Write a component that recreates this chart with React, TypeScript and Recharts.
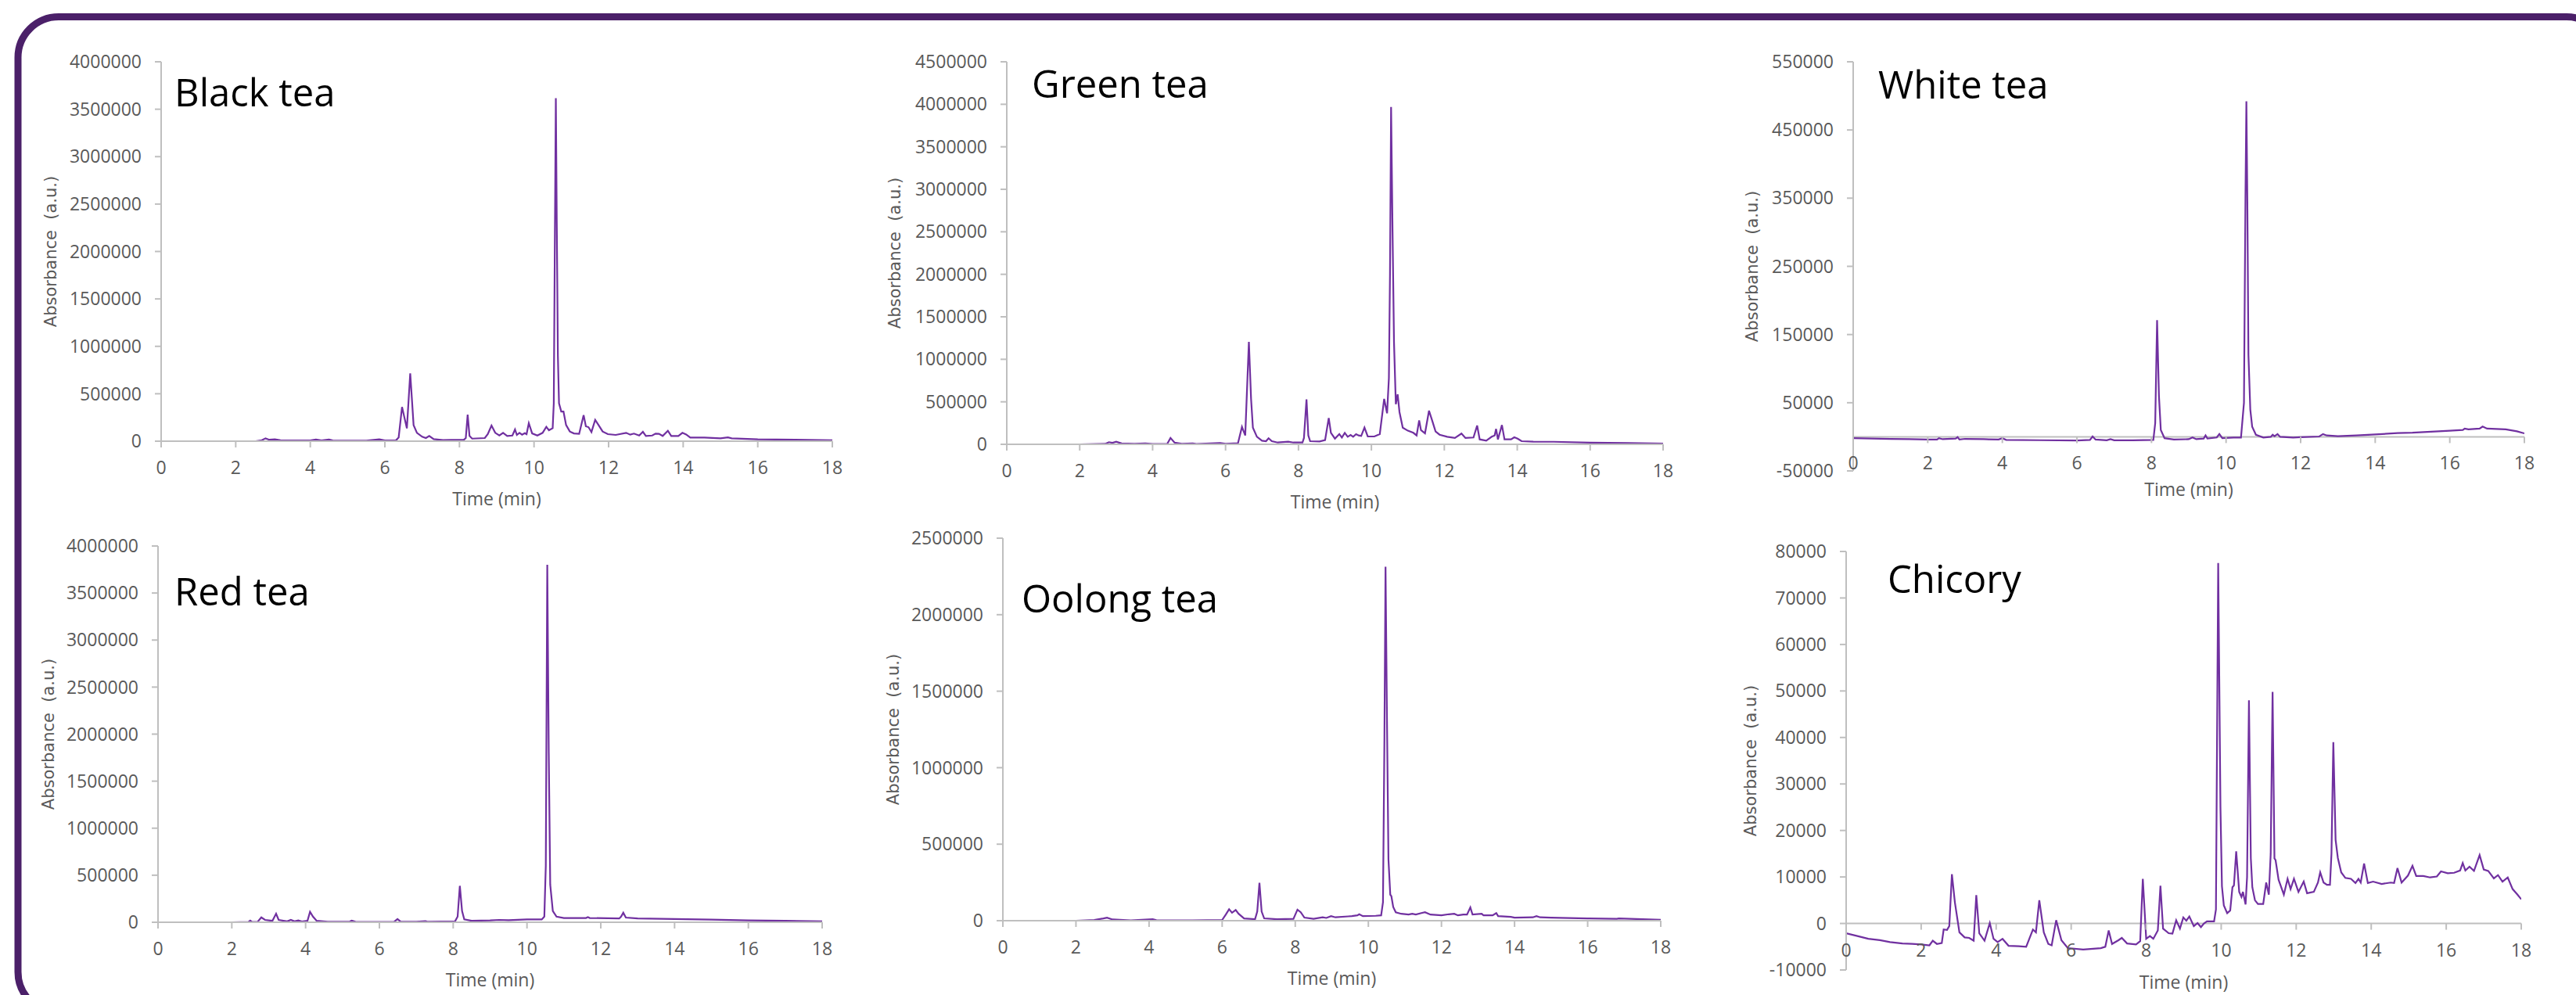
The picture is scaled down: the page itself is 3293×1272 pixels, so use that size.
import { LineChart, Line, XAxis, YAxis, ReferenceLine } from 'recharts'

type Pt = [number, number]

// retention time ticks shared by every panel
const TIME_TICKS = [0, 2, 4, 6, 8, 10, 12, 14, 16, 18]

const blackTicks = [0, 500000, 1000000, 1500000, 2000000, 2500000, 3000000, 3500000, 4000000]
const greenTicks = [0, 500000, 1000000, 1500000, 2000000, 2500000, 3000000, 3500000, 4000000, 4500000]
const whiteTicks = [-50000, 50000, 150000, 250000, 350000, 450000, 550000]
const redTicks = [0, 500000, 1000000, 1500000, 2000000, 2500000, 3000000, 3500000, 4000000]
const oolongTicks = [0, 500000, 1000000, 1500000, 2000000, 2500000]
const chicoryTicks = [-10000, 0, 10000, 20000, 30000, 40000, 50000, 60000, 70000, 80000]

// [time (min), absorbance (a.u.)]
const blackTea: Pt[] = [
    [0, 0], [1, 0], [2, -5000], [2.5, -3000], [2.7, 10000], [2.8, 30000], [2.9, 15000], [3.05, 20000], [3.2, 10000],
    [4.0, 8000], [4.15, 18000], [4.3, 8000], [4.5, 18000], [4.6, 8000], [5.5, 5000], [5.85, 20000], [6.0, 8000],
    [6.3, 10000], [6.37, 40000], [6.46, 360000], [6.59, 135000], [6.68, 715000], [6.77, 170000], [6.86, 88000],
    [7.0, 47000], [7.1, 33000], [7.19, 55000], [7.31, 22000], [7.56, 11000], [7.77, 14000], [8.12, 16000],
    [8.17, 33000], [8.22, 280000], [8.27, 55000], [8.34, 27000], [8.68, 33000], [8.76, 74000], [8.86, 165000],
    [8.96, 88000], [9.07, 60000], [9.17, 88000], [9.28, 55000], [9.42, 60000], [9.49, 124000], [9.54, 66000],
    [9.61, 88000], [9.68, 69000], [9.75, 85000], [9.8, 74000], [9.86, 190000], [9.95, 82000], [10.09, 60000],
    [10.23, 88000], [10.33, 151000], [10.4, 115000], [10.5, 137000], [10.53, 400000], [10.56, 2200000],
    [10.585, 3617000], [10.61, 2300000], [10.64, 900000], [10.67, 400000], [10.73, 313000], [10.79, 313000],
    [10.86, 170000], [10.96, 102000], [11.07, 82000], [11.21, 77000], [11.33, 275000], [11.39, 157000],
    [11.46, 148000], [11.54, 96000], [11.64, 225000], [11.73, 170000], [11.84, 102000], [11.98, 74000],
    [12.19, 66000], [12.47, 88000], [12.58, 69000], [12.68, 80000], [12.82, 60000], [12.92, 99000], [13.0, 55000],
    [13.17, 60000], [13.26, 80000], [13.35, 77000], [13.45, 55000], [13.59, 110000], [13.68, 55000], [13.87, 55000],
    [13.98, 88000], [14.08, 71000], [14.19, 38000], [14.57, 38000], [15, 30000], [15.2, 40000], [15.3, 30000],
    [16, 20000], [16.5, 18000], [17, 15000], [18, 10000],
]

const greenTea: Pt[] = [
    [0, 0], [1, -3000], [2, 0], [2.7, 5000], [2.8, 25000], [2.9, 18000], [3.0, 30000], [3.15, 10000], [3.5, 5000],
    [3.8, 10000], [4.0, 3000], [4.4, 5000], [4.49, 75000], [4.6, 20000], [4.8, 5000], [5.1, 10000], [5.2, 3000],
    [5.85, 15000], [6.0, 5000], [6.34, 12000], [6.45, 205000], [6.54, 104000], [6.64, 1206000], [6.7, 534000],
    [6.75, 196000], [6.86, 89000], [7.0, 43000], [7.11, 37000], [7.18, 71000], [7.27, 37000], [7.43, 21000],
    [7.72, 31000], [7.86, 21000], [8.11, 21000], [8.15, 74000], [8.22, 528000], [8.27, 104000], [8.32, 37000],
    [8.58, 34000], [8.73, 49000], [8.83, 310000], [8.89, 135000], [9.0, 67000], [9.12, 120000], [9.19, 80000],
    [9.27, 135000], [9.35, 89000], [9.43, 110000], [9.5, 89000], [9.58, 120000], [9.65, 104000], [9.72, 98000],
    [9.81, 196000], [9.9, 92000], [10.08, 92000], [10.23, 120000], [10.35, 534000], [10.43, 365000],
    [10.48, 780000], [10.51, 2000000], [10.54, 3968000], [10.58, 2500000], [10.62, 1200000], [10.67, 472000],
    [10.72, 589000], [10.77, 380000], [10.86, 196000], [11.0, 160000], [11.15, 135000], [11.24, 104000],
    [11.31, 282000], [11.36, 166000], [11.47, 129000], [11.58, 396000], [11.66, 288000], [11.76, 150000],
    [11.87, 113000], [12.08, 89000], [12.29, 74000], [12.47, 126000], [12.58, 74000], [12.8, 80000],
    [12.9, 221000], [12.97, 58000], [13.15, 43000], [13.3, 89000], [13.38, 104000], [13.42, 181000],
    [13.47, 58000], [13.58, 227000], [13.65, 58000], [13.83, 58000], [13.92, 83000], [14.01, 67000],
    [14.12, 37000], [14.44, 31000], [15, 30000], [16, 20000], [17, 15000], [18, 8000],
]

const whiteTea: Pt[] = [
    [0, -2000], [0.5, -2500], [1, -3000], [1.5, -3500], [2, -4000], [2.25, -4000], [2.3, -2000], [2.4, -3500],
    [2.75, -2500], [2.8, -500], [2.85, -4000], [3, -3000], [3.5, -3500], [3.9, -4000], [4.0, -2000], [4.1, -4500],
    [5, -5000], [6, -5500], [6.35, -4500], [6.42, 500], [6.5, -4000], [6.8, -5000], [6.9, -3500], [7.0, -5000],
    [7.5, -5000], [8.05, -4500], [8.1, 20000], [8.15, 171000], [8.2, 60000], [8.25, 10000], [8.35, -2000],
    [8.6, -4000], [9.0, -3500], [9.1, -1000], [9.2, -3500], [9.4, -2500], [9.45, 2000], [9.5, -2500],
    [9.75, -1000], [9.82, 4000], [9.9, -2000], [10.2, -1000], [10.4, -1000], [10.48, 50000], [10.52, 350000],
    [10.545, 492000], [10.57, 350000], [10.6, 120000], [10.65, 40000], [10.7, 15000], [10.8, 3000], [11.0, -1000],
    [11.2, 0], [11.25, 3000], [11.3, 1000], [11.38, 4000], [11.45, 0], [11.8, -1000], [12.0, -500], [12.5, 500],
    [12.6, 4000], [12.7, 2000], [13.0, 1000], [13.5, 2000], [14, 3500], [14.6, 5500], [15, 6000], [15.5, 7500],
    [16, 9000], [16.35, 10000], [16.4, 12000], [16.5, 11000], [16.8, 12000], [16.88, 15000], [17, 12000],
    [17.5, 11000], [17.8, 8000], [18, 5000],
]

const redTea: Pt[] = [
    [0, 0], [1, -2000], [2, 0], [2.45, 3000], [2.5, 18000], [2.55, 3000], [2.7, 5000], [2.8, 52000], [2.9, 25000],
    [3.1, 15000], [3.2, 91000], [3.27, 25000], [3.5, 10000], [3.6, 25000], [3.7, 10000], [3.8, 20000], [3.9, 8000],
    [4.05, 15000], [4.12, 111000], [4.2, 60000], [4.3, 15000], [4.6, 5000], [5.2, 8000], [5.25, 18000],
    [5.35, 5000], [6, 3000], [6.4, 5000], [6.49, 34000], [6.58, 5000], [7, 5000], [7.25, 12000], [7.3, 6000],
    [8.05, 10000], [8.12, 60000], [8.18, 387000], [8.24, 120000], [8.3, 30000], [8.5, 15000], [9, 20000],
    [9.25, 25000], [9.5, 22000], [10, 30000], [10.4, 30000], [10.47, 60000], [10.51, 600000], [10.55, 3800000],
    [10.59, 1800000], [10.63, 400000], [10.7, 120000], [10.8, 60000], [11, 45000], [11.6, 45000], [11.65, 55000],
    [11.7, 45000], [12.5, 40000], [12.55, 60000], [12.61, 101000], [12.68, 50000], [13, 40000], [14, 35000],
    [15, 28000], [16, 20000], [17, 15000], [18, 10000],
]

const oolongTea: Pt[] = [
    [0, 0], [2, 0], [2.5, 5000], [2.75, 15000], [2.85, 20000], [3, 8000], [3.5, 2000], [4.1, 10000], [4.2, 3000],
    [5, 2000], [6.0, 5000], [6.1, 40000], [6.19, 75000], [6.27, 52000], [6.37, 70000], [6.45, 45000], [6.6, 15000],
    [6.9, 10000], [6.96, 60000], [7.02, 248000], [7.08, 60000], [7.15, 15000], [7.5, 10000], [7.95, 12000],
    [8.06, 72000], [8.15, 55000], [8.25, 20000], [8.5, 12000], [8.75, 22000], [8.85, 18000], [8.98, 30000],
    [9.1, 22000], [9.45, 28000], [9.55, 30000], [9.7, 35000], [9.75, 42000], [9.85, 30000], [10.2, 32000],
    [10.35, 35000], [10.4, 120000], [10.44, 1200000], [10.47, 2313000], [10.51, 1300000], [10.55, 400000],
    [10.6, 170000], [10.63, 160000], [10.68, 90000], [10.75, 55000], [10.9, 45000], [11.1, 40000], [11.2, 45000],
    [11.3, 40000], [11.45, 50000], [11.55, 55000], [11.7, 40000], [12, 35000], [12.2, 42000], [12.35, 45000],
    [12.45, 35000], [12.6, 40000], [12.7, 40000], [12.79, 87000], [12.85, 40000], [13.1, 45000], [13.15, 35000],
    [13.4, 35000], [13.5, 50000], [13.55, 30000], [13.9, 25000], [14, 20000], [14.5, 22000], [14.6, 30000],
    [14.7, 22000], [15, 20000], [16, 15000], [16.8, 12000], [16.85, 15000], [17.5, 10000], [18, 6000],
]

const chicory: Pt[] = [
    [0, -2100], [0.3, -2700], [0.59, -3300], [0.9, -3600], [1.17, -4000], [1.5, -4300], [1.76, -4400], [2.0, -4500],
    [2.22, -4700], [2.31, -3700], [2.42, -4400], [2.55, -4200], [2.6, -1300], [2.69, -1400], [2.75, -560],
    [2.82, 10600], [2.9, 4500], [3.02, -1900], [3.16, -3000], [3.28, -3100], [3.4, -3700], [3.47, 6100],
    [3.55, -2100], [3.69, -3700], [3.83, 100], [3.93, -3300], [4.04, -4000], [4.17, -3300], [4.33, -4800],
    [4.6, -4900], [4.8, -5000], [4.98, -1300], [5.06, -1900], [5.15, 5000], [5.27, -1900], [5.39, -4400],
    [5.48, -4700], [5.6, 700], [5.74, -3600], [5.91, -5300], [6.32, -5600], [6.79, -5300], [6.91, -5000],
    [7.0, -1500], [7.09, -4400], [7.26, -3600], [7.35, -3100], [7.49, -4300], [7.73, -4500], [7.84, -3800],
    [7.91, 9600], [8.0, -3300], [8.1, -2700], [8.19, -3300], [8.31, -1500], [8.38, 8100], [8.45, -1100],
    [8.6, -2100], [8.7, -2200], [8.8, 700], [8.9, -1100], [8.99, 1300], [9.07, 600], [9.15, 1500], [9.27, -560],
    [9.37, 100], [9.46, -800], [9.54, 0], [9.62, 450], [9.81, 450], [9.86, 3000], [9.92, 77500], [9.98, 25000],
    [10.02, 8000], [10.07, 3900], [10.16, 2200], [10.24, 2800], [10.3, 7800], [10.34, 8200], [10.4, 15500],
    [10.48, 6800], [10.54, 5700], [10.58, 6800], [10.65, 4100], [10.69, 10000], [10.74, 48000], [10.79, 14000],
    [10.83, 7800], [10.9, 5000], [10.98, 4200], [11.12, 4200], [11.2, 8800], [11.27, 6200], [11.32, 15000],
    [11.37, 49800], [11.42, 14000], [11.45, 13600], [11.53, 9400], [11.67, 6200], [11.77, 9600], [11.85, 7400],
    [11.94, 9600], [12.06, 6800], [12.2, 9000], [12.29, 6500], [12.47, 6800], [12.58, 8800], [12.64, 11000],
    [12.73, 8800], [12.82, 8300], [12.9, 8300], [12.94, 15000], [12.99, 39000], [13.05, 18000], [13.11, 14100],
    [13.2, 11000], [13.31, 9800], [13.46, 9600], [13.58, 8700], [13.66, 9600], [13.72, 8800], [13.81, 12900],
    [13.91, 8700], [14.05, 9000], [14.28, 8500], [14.52, 8800], [14.61, 8700], [14.7, 11900], [14.81, 8800],
    [14.98, 10300], [15.1, 12400], [15.2, 10200], [15.39, 10200], [15.57, 9900], [15.75, 10100], [15.86, 11200],
    [16.04, 10800], [16.21, 10900], [16.37, 11400], [16.44, 13000], [16.51, 11400], [16.62, 12200], [16.74, 11300],
    [16.89, 14700], [17.0, 11600], [17.12, 11300], [17.27, 9700], [17.38, 10400], [17.5, 9000], [17.64, 9900],
    [17.77, 7400], [17.91, 6100], [18.0, 5200],
]

const PURPLE = '#7030A0'
const AXIS_GRAY = '#BFBFBF'
const LABEL_GRAY = '#595959'
const BORDER = '#4B2069'
const TICK_FONT = "'Open Sans', sans-serif"

// chart frame around each plot area
const ML = 190
const MT = 20
const MR = 30
const XH = 100

interface PanelProps {
    title: string
    data: Pt[]
    yTicks: number[]
    left: number
    right: number
    top: number
    bottom: number
    titleX: number
    titleY: number
    yLabelGap: number
    timeBaseline: number
    crossAtZero?: boolean
}

function Panel({ title, data, yTicks, left, right, top, bottom, titleX, titleY, yLabelGap, timeBaseline, crossAtZero }: PanelProps) {
    const rows = data.map(([t, v]) => ({ t, v }))
    const yMin = yTicks[0]
    const yMax = yTicks[yTicks.length - 1]
    const plotH = bottom - top
    const zeroY = MT + (plotH * yMax) / (yMax - yMin)
    const width = right - left + ML + MR
    const height = plotH + MT + XH
    const labelOffset = timeBaseline - bottom - XH - 0.71 * 23

    const zeroTick = (p: any) => (
        <g key={`zt-${p.payload.value}`}>
            <line x1={p.x} x2={p.x} y1={zeroY} y2={zeroY + 8} stroke={AXIS_GRAY} strokeWidth={2} />
            <text x={p.x} y={zeroY + 42} textAnchor="middle" fill={LABEL_GRAY} fontSize={23} fontFamily={TICK_FONT}>
                {p.payload.value}
            </text>
        </g>
    )

    return (
        <>
            <div style={{ position: 'absolute', left: left - ML, top: top - MT, width, height }}>
                <LineChart width={width} height={height} data={rows} margin={{ top: MT, right: MR, bottom: 0, left: 0 }}>
                    <XAxis
                        dataKey="t"
                        type="number"
                        domain={[0, 18]}
                        ticks={TIME_TICKS}
                        interval={0}
                        allowDataOverflow
                        height={XH}
                        tickSize={8}
                        tickMargin={18}
                        axisLine={crossAtZero ? false : { stroke: AXIS_GRAY, strokeWidth: 2 }}
                        tickLine={crossAtZero ? false : { stroke: AXIS_GRAY, strokeWidth: 2 }}
                        tick={crossAtZero ? zeroTick : { fill: LABEL_GRAY, fontSize: 23, fontFamily: TICK_FONT }}
                        label={{
                            value: 'Time (min)',
                            position: 'bottom',
                            offset: labelOffset,
                            fill: LABEL_GRAY,
                            fontSize: 23,
                            fontFamily: TICK_FONT
                        }}
                    />
                    <YAxis
                        type="number"
                        domain={[yMin, yMax]}
                        ticks={yTicks}
                        interval={0}
                        allowDataOverflow
                        width={ML}
                        tickSize={8}
                        tickMargin={17}
                        axisLine={{ stroke: AXIS_GRAY, strokeWidth: 2 }}
                        tickLine={{ stroke: AXIS_GRAY, strokeWidth: 2 }}
                        tick={{ fill: LABEL_GRAY, fontSize: 23, fontFamily: TICK_FONT }}
                        label={{
                            value: 'Absorbance\u00A0\u00A0(a.u.)',
                            angle: -90,
                            position: 'insideLeft',
                            offset: ML - yLabelGap,
                            fill: LABEL_GRAY,
                            fontSize: 21,
                            fontFamily: "'DejaVu Sans', sans-serif",
                            style: { textAnchor: 'middle' }
                        }}
                    />
                    {crossAtZero && <ReferenceLine y={0} stroke={AXIS_GRAY} strokeWidth={2} />}
                    <Line
                        type="linear"
                        dataKey="v"
                        stroke={PURPLE}
                        strokeWidth={2.2}
                        dot={false}
                        activeDot={false}
                        isAnimationActive={false}
                    />
                </LineChart>
            </div>
            <div
                style={{
                    position: 'absolute',
                    left: titleX,
                    top: titleY - 52,
                    fontFamily: "'Open Sans', sans-serif",
                    fontSize: 49,
                    lineHeight: '68px',
                    color: '#000',
                    whiteSpace: 'nowrap'
                }}
            >
                {title}
            </div>
        </>
    )
}

export default function App() {
    return (
        <div style={{ position: 'absolute', left: 0, top: 0, width: 3293, height: 1272, overflow: 'hidden', background: '#fff' }}>
            <svg width={3293} height={1272} style={{ position: 'absolute', left: 0, top: 0 }}>
                <rect x={23} y={21.5} width={3310} height={1273} rx={52} ry={52} fill="none" stroke={BORDER} strokeWidth={9} />
            </svg>
            <Panel title="Black tea" data={blackTea} yTicks={blackTicks} left={206} right={1064} top={79} bottom={564}
                titleX={223} titleY={135} yLabelGap={141} timeBaseline={646} />
            <Panel title="Green tea" data={greenTea} yTicks={greenTicks} left={1287} right={2126} top={79} bottom={568}
                titleX={1319} titleY={124} yLabelGap={143} timeBaseline={650} />
            <Panel title="White tea" data={whiteTea} yTicks={whiteTicks} left={2369} right={3227} top={79} bottom={602}
                titleX={2401} titleY={125} yLabelGap={129} timeBaseline={634} crossAtZero />
            <Panel title="Red tea" data={redTea} yTicks={redTicks} left={202} right={1051} top={698} bottom={1179}
                titleX={223} titleY={773} yLabelGap={140} timeBaseline={1261} />
            <Panel title="Oolong tea" data={oolongTea} yTicks={oolongTicks} left={1282} right={2123} top={688} bottom={1177}
                titleX={1306} titleY={782} yLabelGap={140} timeBaseline={1259} />
            <Panel title="Chicory" data={chicory} yTicks={chicoryTicks} left={2360} right={3223} top={705} bottom={1240}
                titleX={2413} titleY={757} yLabelGap={122} timeBaseline={1264} crossAtZero />
        </div>
    )
}
